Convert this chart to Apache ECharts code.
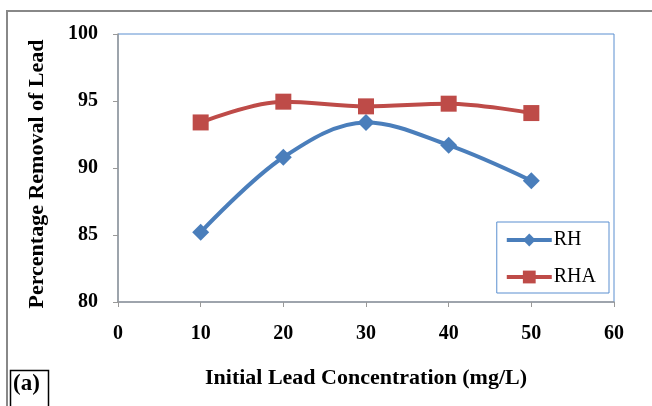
<!DOCTYPE html>
<html><head><meta charset="utf-8">
<script src="https://cdn.jsdelivr.net/npm/echarts@6/dist/echarts.min.js"></script>
<style>html,body{margin:0;padding:0;background:#fff}#c{width:652px;height:406px}</style>
</head><body><div id="c"></div>
<script>
const xValues = [10, 20, 30, 40, 50];
const rhValues = [85.2, 90.8, 93.4, 91.7, 89.05];
const rhaValues = [93.4, 94.95, 94.6, 94.8, 94.1];
const seriesNames = ['RH', 'RHA'];
const xTitle = 'Initial Lead Concentration (mg/L)';
const yTitle = 'Percentage Removal of Lead';
const panelLabel = '(a)';

const font = '"Liberation Serif", "Times New Roman", serif';
const chart = echarts.init(document.getElementById('c'));
chart.setOption({
  animation: false,
  backgroundColor: '#fff',
  grid: {left: 118, top: 34, right: 38, bottom: 104, show: true, borderColor: '#5B8FD0', borderWidth: 1, backgroundColor: 'transparent'},
  xAxis: {
    type: 'value', min: 0, max: 60, interval: 10,
    axisLine: {show: true, lineStyle: {color: '#999', width: 1.5}},
    axisTick: {show: true, inside: false, length: 5, lineStyle: {color: '#999'}},
    splitLine: {show: false},
    axisLabel: {color: '#000', fontFamily: font, fontWeight: 'bold', fontSize: 20, margin: 22},
    name: xTitle, nameLocation: 'middle', nameGap: 65,
    nameTextStyle: {color: '#000', fontFamily: font, fontWeight: 'bold', fontSize: 22}
  },
  yAxis: {
    type: 'value', min: 80, max: 100, interval: 5,
    axisLine: {show: true, lineStyle: {color: '#999', width: 1.5}},
    axisTick: {show: true, inside: false, length: 5, lineStyle: {color: '#999'}},
    splitLine: {show: false},
    axisLabel: {color: '#000', fontFamily: font, fontWeight: 'bold', fontSize: 20, margin: 20},
    name: yTitle, nameLocation: 'middle', nameGap: 70,
    nameTextStyle: {color: '#000', fontFamily: font, fontWeight: 'bold', fontSize: 22, padding: [0, 12, 0, 0]}
  },
  legend: {
    orient: 'vertical', right: 43, top: 222,
    padding: [8, 13, 6, 8], itemGap: 17,
    borderColor: '#5B8FD0', borderWidth: 1, backgroundColor: '#fff',
    itemWidth: 45, itemHeight: 16,
    lineStyle: {width: 4},
    textStyle: {fontFamily: font, fontSize: 20, color: '#000', padding: [0, 0, 0, -3]},
    data: seriesNames
  },
  series: [
    {name: seriesNames[0], type: 'line', smooth: 0.35,
     data: xValues.map((x, i) => [x, rhValues[i]]),
     symbol: 'diamond', symbolSize: 17,
     lineStyle: {color: '#4A7EBB', width: 4},
     itemStyle: {color: '#4A7EBB'}},
    {name: seriesNames[1], type: 'line', smooth: 0.35,
     data: xValues.map((x, i) => [x, rhaValues[i]]),
     symbol: 'rect', symbolSize: 16,
     lineStyle: {color: '#BE4B48', width: 4},
     itemStyle: {color: '#BE4B48'}}
  ],
  graphic: [
    {type: 'rect', shape: {x: 7, y: 11, width: 700, height: 450}, style: {fill: 'none', stroke: '#888', lineWidth: 2}, silent: true, z: -1},
    {type: 'rect', shape: {x: 10.5, y: 370.5, width: 38, height: 50}, style: {fill: '#fff', stroke: '#000', lineWidth: 1.5}},
    {type: 'text', left: 13, top: 373, style: {text: panelLabel, font: 'bold 23px ' + font, fill: '#000'}}
  ]
});
</script></body></html>
